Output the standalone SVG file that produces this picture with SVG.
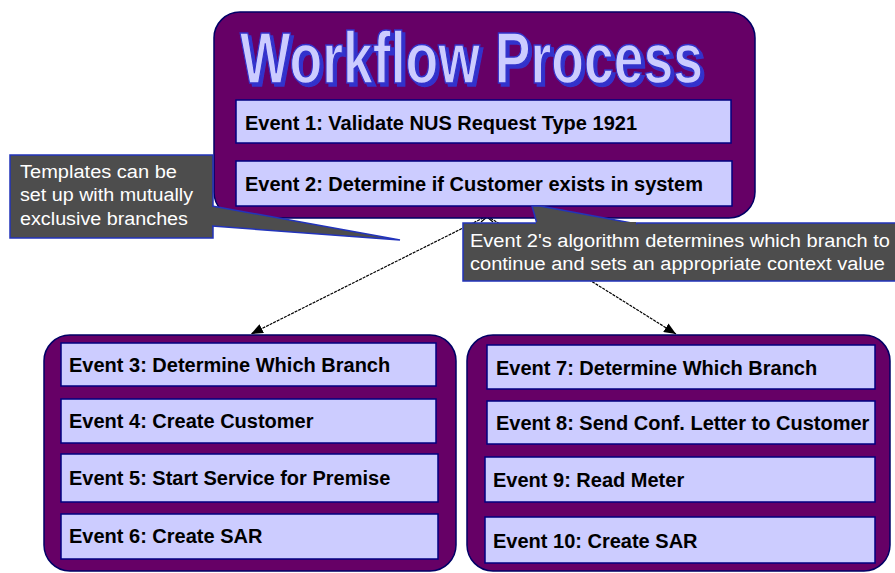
<svg xmlns="http://www.w3.org/2000/svg" width="895" height="573" viewBox="0 0 895 573">
<style>
.panel{fill:#660066;stroke:#000066;stroke-width:1.5}
.ev{fill:#ccccff;stroke:#000080;stroke-width:1.5}
.evt{font-family:"Liberation Sans",Arial,sans-serif;font-weight:bold;font-size:20px;fill:#000}
.title{font-family:"Liberation Sans",Arial,sans-serif;font-weight:bold;font-size:72px}
.call{fill:#4d4d4d;stroke:#2233bb;stroke-width:1.5}
.ct{font-family:"Liberation Sans",Arial,sans-serif;font-size:18px;fill:#ffffff}
.conn{fill:none;stroke:#000;stroke-width:1.2;stroke-dasharray:3 1}
</style>
<defs>
<marker id="ah" viewBox="0 0 12 10" refX="12" refY="5" markerWidth="12" markerHeight="10" markerUnits="userSpaceOnUse" orient="auto">
<path d="M0,0 L12,5 L0,10 z" fill="#000"/>
</marker>
<filter id="shadow" x="-5%" y="-10%" width="115%" height="130%">
<feOffset in="SourceAlpha" dx="3" dy="3" result="off"/>
<feFlood flood-color="#3333cc"/>
<feComposite in2="off" operator="in" result="sh"/>
<feMerge><feMergeNode in="sh"/><feMergeNode in="SourceGraphic"/></feMerge>
</filter>
</defs>
<rect width="895" height="573" fill="#ffffff"/>

<g id="connectors">
<line class="conn" x1="487" y1="216" x2="251" y2="334" marker-end="url(#ah)"/>
<line class="conn" x1="487" y1="216" x2="676" y2="334" marker-end="url(#ah)"/>
<path d="M481,222 L487,217 L493,222" fill="none" stroke="#000" stroke-width="1.2"/>
</g>

<g id="workflow-process">
<rect class="panel" x="214" y="12" width="541" height="206" rx="26"/>
<text class="title" x="240" y="83" fill="#ccccff" stroke="#3333cc" stroke-width="1.5" filter="url(#shadow)" textLength="463" lengthAdjust="spacingAndGlyphs">Workflow Process</text>
<g id="event-1">
<rect class="ev" x="236" y="100" width="495" height="43"/>
<text class="evt" x="245" y="130">Event 1: Validate NUS Request Type 1921</text>
</g>
<g id="event-2">
<rect class="ev" x="236" y="161" width="496" height="45"/>
<text class="evt" x="245" y="191">Event 2: Determine if Customer exists in system</text>
</g>
</g>

<g id="branch-1">
<rect class="panel" x="44" y="335" width="412" height="236" rx="26"/>
<g id="event-3">
<rect class="ev" x="61" y="343" width="375" height="43"/>
<text class="evt" x="69" y="372">Event 3: Determine Which Branch</text>
</g>
<g id="event-4">
<rect class="ev" x="61" y="399" width="375" height="44"/>
<text class="evt" x="69" y="428">Event 4: Create Customer</text>
</g>
<g id="event-5">
<rect class="ev" x="61" y="454" width="377" height="48"/>
<text class="evt" x="69" y="485">Event 5: Start Service for Premise</text>
</g>
<g id="event-6">
<rect class="ev" x="61" y="514" width="377" height="45"/>
<text class="evt" x="69" y="543">Event 6: Create SAR</text>
</g>
</g>

<g id="branch-2">
<rect class="panel" x="467" y="335" width="423" height="236" rx="26"/>
<g id="event-7">
<rect class="ev" x="487" y="345" width="388" height="44"/>
<text class="evt" x="496" y="375">Event 7: Determine Which Branch</text>
</g>
<g id="event-8">
<rect class="ev" x="487" y="401" width="388" height="43"/>
<text class="evt" x="496" y="430">Event 8: Send Conf. Letter to Customer</text>
</g>
<g id="event-9">
<rect class="ev" x="485" y="457" width="390" height="45"/>
<text class="evt" x="493" y="487">Event 9: Read Meter</text>
</g>
<g id="event-10">
<rect class="ev" x="485" y="517" width="390" height="46"/>
<text class="evt" x="493" y="548">Event 10: Create SAR</text>
</g>
</g>

<g id="callout-templates">
<rect class="call" x="10" y="155" width="203" height="83"/>
<path class="call" d="M212,206 L400,240 L212,226"/>
<rect x="205" y="207" width="9" height="18" fill="#4d4d4d"/>
<text class="ct" x="20" y="178" textLength="157" lengthAdjust="spacingAndGlyphs">Templates can be</text>
<text class="ct" x="20" y="201" textLength="173" lengthAdjust="spacingAndGlyphs">set up with mutually</text>
<text class="ct" x="20" y="225" textLength="168" lengthAdjust="spacingAndGlyphs">exclusive branches</text>
</g>

<g id="callout-algorithm">
<rect class="call" x="463" y="223" width="440" height="58"/>
<path class="call" d="M537,224 L532,206 L540,206 L637,224"/>
<rect x="536" y="222" width="100" height="3" fill="#4d4d4d"/>
<text class="ct" x="470" y="247" textLength="420" lengthAdjust="spacingAndGlyphs">Event 2's algorithm  determines which branch to</text>
<text class="ct" x="470" y="270" textLength="415" lengthAdjust="spacingAndGlyphs">continue and sets an appropriate context value</text>
</g>
</svg>
